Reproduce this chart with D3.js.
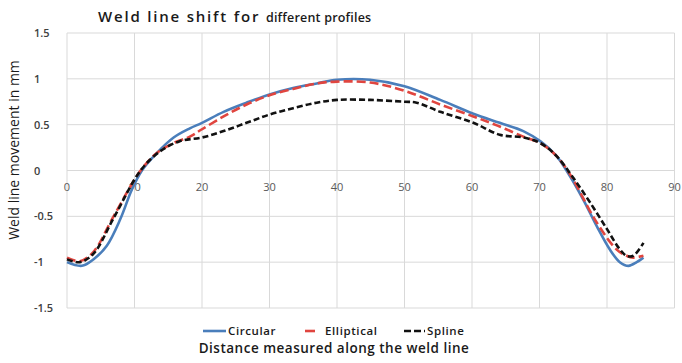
<!DOCTYPE html>
<html>
<head>
<meta charset="utf-8">
<script src="https://cdn.jsdelivr.net/npm/d3@7"></script>
<style>
  body { margin: 0; background: #fff; }
  text { font-family: "Open Sans", "Noto Sans", sans-serif; }
</style>
</head>
<body>
<script>
// values
const xTicks = [0, 10, 20, 30, 40, 50, 60, 70, 80, 90]
const yTicks = [-1.5, -1, -0.5, 0, 0.5, 1, 1.5]

const circularX = [0, 2.2, 3.9, 5.9, 7.9, 9.6, 11.1, 13.3, 15.8, 18.2, 20, 23.2, 26.6, 30, 33.5, 37, 40, 44.9, 50, 55.3, 60.2, 64.1, 67.6, 70.1, 72.5, 74.5, 76.5, 78.5, 80.4, 81.9, 83.2, 84.4, 85.4]
const circularY = [-1.0, -1.04, -0.97, -0.82, -0.53, -0.21, 0, 0.19, 0.36, 0.46, 0.52, 0.64, 0.74, 0.83, 0.90, 0.95, 0.99, 0.99, 0.92, 0.77, 0.62, 0.52, 0.43, 0.32, 0.16, -0.06, -0.32, -0.61, -0.86, -1.0, -1.04, -1.0, -0.95]

const ellipticalX = [0, 1.9, 3.9, 6.9, 10.9, 13.3, 15.8, 18.2, 20, 23.2, 26.6, 30, 33.5, 37, 40, 44.9, 50, 55.3, 60.2, 64.1, 67.6, 70.1, 72.5, 74.5, 78.5, 81.4, 82.9, 83.9, 85.4]
const ellipticalY = [-0.95, -0.99, -0.89, -0.5, 0, 0.19, 0.30, 0.37, 0.45, 0.59, 0.72, 0.82, 0.89, 0.95, 0.97, 0.96, 0.87, 0.72, 0.59, 0.48, 0.37, 0.30, 0.16, -0.04, -0.57, -0.86, -0.93, -0.95, -0.93]

const splineX = [0, 1.9, 3.9, 6.9, 10.9, 13.8, 16.7, 20, 23.2, 26.6, 30, 33.5, 37, 40, 44.9, 50, 51.8, 55.3, 60.2, 64.1, 67.6, 70.1, 72.5, 75, 77.5, 80, 81.9, 82.9, 83.9, 85.4]
const splineY = [-0.97, -1.0, -0.91, -0.52, 0, 0.21, 0.32, 0.36, 0.43, 0.52, 0.61, 0.68, 0.74, 0.77, 0.77, 0.75, 0.74, 0.64, 0.52, 0.39, 0.36, 0.30, 0.16, -0.08, -0.35, -0.64, -0.86, -0.93, -0.93, -0.79]

const seriesNames = ['Circular', 'Elliptical', 'Spline']

const width = 682, height = 363
const margin = { left: 67, right: 7.5, top: 33, bottom: 55 }

const svg = d3.select('body').append('svg')
  .attr('width', width)
  .attr('height', height)

const x = d3.scaleLinear().domain([0, 90]).range([margin.left, width - margin.right])
const y = d3.scaleLinear().domain([-1.5, 1.5]).range([height - margin.bottom, margin.top])

// grid
svg.append('g')
  .selectAll('line')
  .data(xTicks)
  .join('line')
  .attr('x1', d => x(d)).attr('x2', d => x(d))
  .attr('y1', y(1.5)).attr('y2', y(-1.5))
  .attr('stroke', '#d9d9d9')
svg.append('g')
  .selectAll('line')
  .data(yTicks)
  .join('line')
  .attr('x1', x(0)).attr('x2', x(90))
  .attr('y1', d => y(d)).attr('y2', d => y(d))
  .attr('stroke', '#d9d9d9')

// y tick labels
svg.append('g')
  .selectAll('text')
  .data(yTicks)
  .join('text')
  .attr('x', 34)
  .attr('y', d => y(d) + 4)
  .attr('font-size', 11)
  .attr('font-weight', 600)
  .attr('fill', '#404040')
  .text(d => d)

// x tick labels sit under the zero line
svg.append('g')
  .selectAll('text')
  .data(xTicks)
  .join('text')
  .attr('x', d => x(d))
  .attr('y', y(0) + 20)
  .attr('text-anchor', 'middle')
  .attr('font-size', 11)
  .attr('fill', '#595959')
  .text(d => d)

const series = [
  { name: seriesNames[0], xs: circularX, ys: circularY, color: '#4a7ebb', dash: null },
  { name: seriesNames[1], xs: ellipticalX, ys: ellipticalY, color: '#e0453f', dash: '9,4' },
  { name: seriesNames[2], xs: splineX, ys: splineY, color: '#111', dash: '6,3' }
]

const line = d3.line()
  .x(d => x(d[0]))
  .y(d => y(d[1]))
  .curve(d3.curveCatmullRom.alpha(0.5))

series.forEach(s => {
  svg.append('path')
    .datum(d3.zip(s.xs, s.ys))
    .attr('d', line)
    .attr('fill', 'none')
    .attr('stroke', s.color)
    .attr('stroke-width', 2.6)
    .attr('stroke-dasharray', s.dash)
    .attr('stroke-linejoin', 'round')
})

// title, the second half is set smaller in the original
const title = svg.append('text')
  .attr('x', 98)
  .attr('y', 22)
  .attr('fill', '#1a1a1a')
  .attr('font-weight', 600)
title.append('tspan').attr('font-size', 15).attr('letter-spacing', 1.8).text('Weld line shift for ')
title.append('tspan').attr('font-size', 12.5).attr('letter-spacing', 0.2).text('different profiles')

// y axis title
svg.append('text')
  .attr('transform', 'translate(19,150) rotate(-90)')
  .attr('text-anchor', 'middle')
  .attr('font-size', 14)
  .attr('fill', '#1a1a1a')
  .text('Weld line movement in mm')

// legend
const legendPos = [
  { lx: 203, len: 23, tx: 228 },
  { lx: 305, len: 10, tx: 325 },
  { lx: 404, len: 21, tx: 427 }
]
series.forEach((s, i) => {
  const p = legendPos[i]
  svg.append('line')
    .attr('x1', p.lx).attr('x2', p.lx + p.len)
    .attr('y1', 331).attr('y2', 331)
    .attr('stroke', s.color)
    .attr('stroke-width', 2.6)
    .attr('stroke-dasharray', i === 2 ? '7,3' : null)
  svg.append('text')
    .attr('x', p.tx)
    .attr('y', 335)
    .attr('font-size', 11.5)
    .attr('font-weight', 600)
    .attr('letter-spacing', 0.6)
    .attr('fill', '#1a1a1a')
    .text(s.name)
})

// x axis title
svg.append('text')
  .attr('x', 334)
  .attr('y', 353)
  .attr('text-anchor', 'middle')
  .attr('font-size', 13.5)
  .attr('font-weight', 600)
  .attr('letter-spacing', 0.5)
  .attr('fill', '#1a1a1a')
  .text('Distance measured along the weld line')
</script>
</body>
</html>
